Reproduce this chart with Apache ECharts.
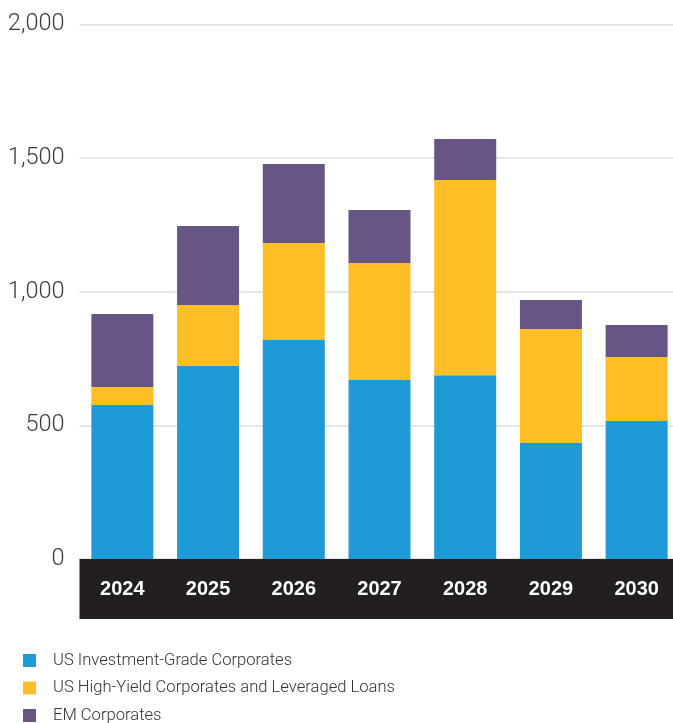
<!DOCTYPE html>
<html>
<head>
<meta charset="utf-8">
<script src="https://cdn.jsdelivr.net/npm/echarts@6/dist/echarts.min.js"></script>
<style>
  html, body { margin: 0; padding: 0; background: #ffffff; overflow: hidden; }
  #chart { width: 680px; height: 723px; }
</style>
</head>
<body>
<div id="chart"></div>
<script>
// Maturity years on the category axis
var years = ['2024', '2025', '2026', '2027', '2028', '2029', '2030'];

// Stacked segments per year
var usInvestmentGrade = [576, 722, 819, 670, 688, 434, 516];
var usHighYield = [68, 228, 363, 438, 730, 427, 240];
var emCorporates = [273, 296, 296, 198, 154, 108, 120];

// Value axis ticks
var yTicks = [0, 500, 1000, 1500, 2000];

var seriesNames = [
  'US Investment-Grade Corporates',
  'US High-Yield Corporates and Leveraged Loans',
  'EM Corporates'
];
var seriesColors = ['#1e9ad6', '#fdbe26', '#675685'];
var seriesData = [usInvestmentGrade, usHighYield, emCorporates];

// One legend block per series, stacked down the bottom-left corner
var legendRowTop = [647, 674.5, 702];
var legends = seriesNames.map(function (name, i) {
  return {
    orient: 'vertical',
    left: 18,
    top: legendRowTop[i],
    itemWidth: 13,
    itemHeight: 13,
    icon: 'rect',
    selectedMode: false,
    data: [name],
    textStyle: {
      fontFamily: 'Roboto, "Noto Sans", sans-serif',
      fontWeight: 300,
      fontSize: 16.6,
      color: '#333333',
      padding: [0, 0, 0, 12]
    }
  };
});

var chart = echarts.init(document.getElementById('chart'), null, { renderer: 'canvas' });

chart.setOption({
  animation: false,
  backgroundColor: '#ffffff',
  grid: { left: 79.5, top: 24.5, width: 600, height: 534.5, containLabel: false },
  legend: legends,
  xAxis: {
    type: 'category',
    data: years,
    offset: 30,
    axisLine: { show: true, onZero: false, lineStyle: { color: '#231f20', width: 60, cap: 'butt' } },
    axisTick: { show: false },
    axisLabel: {
      margin: 0,
      verticalAlign: 'middle',
      color: '#ffffff',
      fontFamily: '"Liberation Sans", Arial, sans-serif',
      fontWeight: 'bold',
      fontSize: 20
    }
  },
  yAxis: {
    type: 'value',
    min: yTicks[0],
    max: yTicks[yTicks.length - 1],
    interval: yTicks[1] - yTicks[0],
    axisLine: { show: false },
    axisTick: { show: false },
    splitLine: { show: true, lineStyle: { color: '#dcdcdc', width: 1.5 } },
    axisLabel: {
      margin: 15,
      color: '#3a3a3a',
      fontFamily: 'Roboto, "Liberation Sans", sans-serif',
      fontWeight: 300,
      fontSize: 23.5,
      verticalAlign: 'middle',
      padding: [0, 0, 9, 0],
      formatter: function (v) { return v.toLocaleString('en-US'); }
    }
  },
  series: seriesNames.map(function (name, i) {
    return {
      name: name,
      type: 'bar',
      stack: 'total',
      barWidth: 62,
      data: seriesData[i],
      itemStyle: { color: seriesColors[i] },
      emphasis: { disabled: true }
    };
  })
});
</script>
</body>
</html>
